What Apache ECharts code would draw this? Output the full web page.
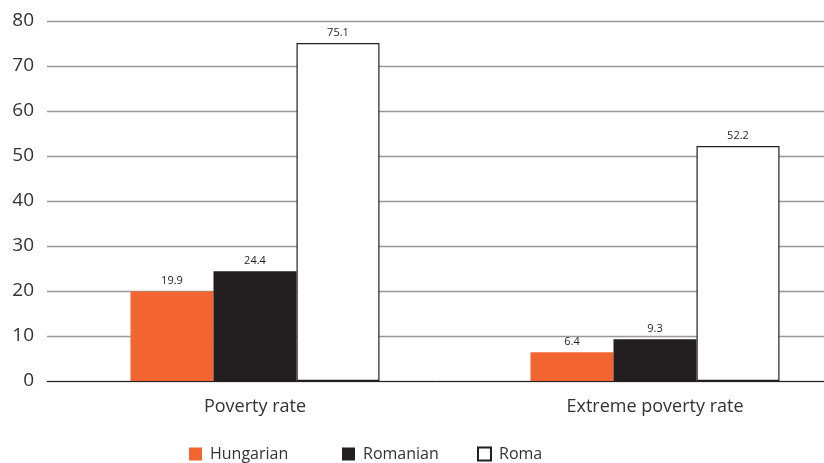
<!DOCTYPE html>
<html><head><meta charset="utf-8">
<script src="https://cdn.jsdelivr.net/npm/echarts@6/dist/echarts.min.js"></script>
<style>html,body{margin:0;padding:0;background:#fff}#c{width:824px;height:463px}</style>
</head><body><div id="c"></div>
<script>
var categories = ['Poverty rate', 'Extreme poverty rate'];
var hungarian = [19.9, 6.4];
var romanian = [24.4, 9.3];
var roma = [75.1, 52.2];
var yTicks = [0, 10, 20, 30, 40, 50, 60, 70, 80];

var font = '"Open Sans", "Noto Sans", sans-serif';
var label = {show: true, position: 'top', distance: 5, fontSize: 11, color: '#231F20', fontFamily: font};
var legendText = {fontSize: 16, color: '#333', fontFamily: font, padding: [0, 0, 0, 3]};
function leg(name, left) {
  return {data: [name], left: left, top: 446, padding: 0, itemWidth: 13, itemHeight: 13, icon: 'rect', textStyle: legendText};
}
var chart = echarts.init(document.getElementById('c'));
chart.setOption({
  animation: false,
  textStyle: {fontFamily: font},
  grid: [
    {left: 55, width: 800, top: 21, height: 360, outerBoundsMode: 'none', containLabel: false},
    {left: 47, right: 0, top: 21, height: 360, outerBoundsMode: 'none', containLabel: false}
  ],
  legend: [leg('Hungarian', 189), leg('Romanian', 342), leg('Roma', 477)],
  xAxis: [
    {type: 'category', data: categories, gridIndex: 0,
      axisLine: {show: false}, axisTick: {show: false},
      axisLabel: {fontSize: 18, color: '#333', margin: 17, fontFamily: font}},
    {type: 'category', data: categories, gridIndex: 1,
      axisLine: {lineStyle: {color: '#231F20', width: 1}}, axisTick: {show: false},
      axisLabel: {show: false}}
  ],
  yAxis: [
    {type: 'value', gridIndex: 0, min: yTicks[0], max: yTicks[yTicks.length - 1], interval: 10,
      axisLine: {show: false}, axisTick: {show: false}, axisLabel: {show: false}, splitLine: {show: false}},
    {type: 'value', gridIndex: 1, min: yTicks[0], max: yTicks[yTicks.length - 1], interval: 10,
      axisLine: {show: false}, axisTick: {show: false},
      axisLabel: {fontSize: 19, color: '#333', margin: 13, fontFamily: font},
      splitLine: {lineStyle: {color: '#999', width: 1.3}}}
  ],
  series: [
    {name: 'Hungarian', type: 'bar', data: hungarian, barWidth: 83, barGap: '0%',
      itemStyle: {color: '#F26531'}, label: label},
    {name: 'Romanian', type: 'bar', data: romanian, barWidth: 83, barGap: '0%',
      itemStyle: {color: '#231F20'}, label: label},
    {name: 'Roma', type: 'bar', data: roma, barWidth: 83, barGap: '0%',
      itemStyle: {color: '#fff', borderColor: '#231F20', borderWidth: 1.2}, label: label}
  ]
});
</script></body></html>
